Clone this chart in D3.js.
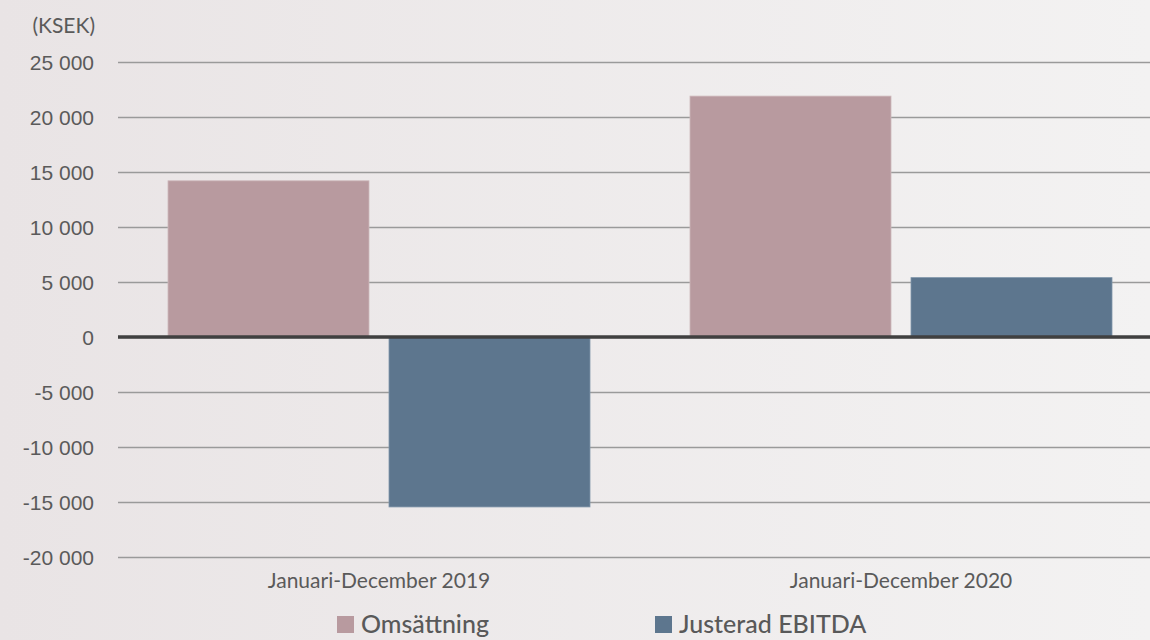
<!DOCTYPE html>
<html>
<head>
<meta charset="utf-8">
<script src="https://cdn.jsdelivr.net/npm/d3@7"></script>
<style>
  html, body { margin: 0; padding: 0; }
  body { width: 1150px; height: 640px; overflow: hidden; }
  svg { display: block; font-family: Lato, "Noto Sans", sans-serif; }
  .y-axis text { fill: #5a5a5a; font-size: 21px; }
  .y-axis .domain { display: none; }
  .y-axis line { stroke: #9a9a9a; stroke-width: 1.5; }
</style>
</head>
<body>
<div id="chart"></div>
<script>
// data
const categories = ["Januari-December 2019", "Januari-December 2020"];
const seriesNames = ["Omsättning", "Justerad EBITDA"];
const omsattning = [14200, 21900];
const ebitda = [-15450, 5400];
const tickValues = [-20000, -15000, -10000, -5000, 0, 5000, 10000, 15000, 20000, 25000];
const colors = ["#b89a9f", "#5d768e"];

const W = 1150, H = 640;
const margin = {top: 62, left: 118, bottom: 83};

const svg = d3.select("#chart").append("svg")
    .attr("width", W)
    .attr("height", H);

// background gradient
const grad = svg.append("defs").append("linearGradient")
    .attr("id", "bg")
    .attr("x1", "0%").attr("y1", "0%").attr("x2", "100%").attr("y2", "0%");
grad.append("stop").attr("offset", "0%").attr("stop-color", "#e9e4e5");
grad.append("stop").attr("offset", "100%").attr("stop-color", "#f3f2f2");
svg.append("rect").attr("width", W).attr("height", H).attr("fill", "url(#bg)");

const fmt = d3.formatLocale({decimal: ",", thousands: " ", grouping: [3], currency: ["", ""], minus: "-"}).format(",");

// scales
const y = d3.scaleLinear()
  .domain([-20000, 25000])
  .range([557, 62]);

const x0 = d3.scaleBand()
  .domain(categories)
  .range([118, 1162])
  .paddingInner(100 / 522)
  .paddingOuter(50 / 522);

const x1 = d3.scaleBand()
  .domain(seriesNames)
  .range([0, x0.bandwidth()])
  .paddingInner(20 / 221);

// y axis + gridlines
const yAxis = svg.append("g")
  .attr("class", "y-axis")
  .attr("transform", `translate(${margin.left},0)`)
  .call(d3.axisLeft(y)
    .tickValues(tickValues)
    .tickFormat(fmt)
    .tickSizeInner(-(W - margin.left))
    .tickSizeOuter(0)
    .tickPadding(24));
yAxis.selectAll("text").attr("dy", "0.36em");

svg.append("text")
  .attr("x", 95)
  .attr("y", 33)
  .attr("text-anchor", "end")
  .attr("fill", "#5a5a5a")
  .style("font-size", "21px")
  .text("(KSEK)");

// bars
const rows = categories.map((c, i) => ({cat: c, values: [omsattning[i], ebitda[i]]}));

const groups = svg.selectAll("g.group")
  .data(rows)
  .join("g")
    .attr("class", "group")
    .attr("transform", d => `translate(${x0(d.cat)},0)`);

groups.selectAll("rect")
  .data(d => d.values.map((v, j) => ({series: seriesNames[j], value: v, j})))
  .join("rect")
    .attr("x", d => x1(d.series))
    .attr("y", d => y(Math.max(0, d.value)))
    .attr("width", x1.bandwidth())
    .attr("height", d => Math.abs(y(d.value) - y(0)))
    .attr("fill", d => colors[d.j])
    .attr("stroke", d => d.j === 0 ? "#cdb8bb" : "#8197ab")
    .attr("stroke-width", 0.8);

// zero line
svg.append("line")
  .attr("x1", margin.left)
  .attr("x2", W)
  .attr("y1", y(0))
  .attr("y2", y(0))
  .attr("stroke", "#404040")
  .attr("stroke-width", 3.5);

// category labels
svg.selectAll("text.cat")
  .data(categories)
  .join("text")
    .attr("class", "cat")
    .attr("x", d => x0(d) + x0.bandwidth() / 2)
    .attr("y", 588)
    .attr("text-anchor", "middle")
    .attr("fill", "#5a5a5a")
    .style("font-size", "21px")
    .text(d => d);

// legend
const legendX = [337, 655];
const legend = svg.selectAll("g.legend")
  .data(seriesNames)
  .join("g")
    .attr("class", "legend")
    .attr("transform", (d, i) => `translate(${legendX[i]},616)`);

legend.append("rect")
  .attr("width", 17)
  .attr("height", 17)
  .attr("fill", (d, i) => colors[i]);

legend.append("text")
  .attr("x", 24)
  .attr("y", 17)
  .attr("fill", "#595959")
  .style("font-size", "25px")
  .style("font-weight", "500")
  .text(d => d);
</script>
</body>
</html>
